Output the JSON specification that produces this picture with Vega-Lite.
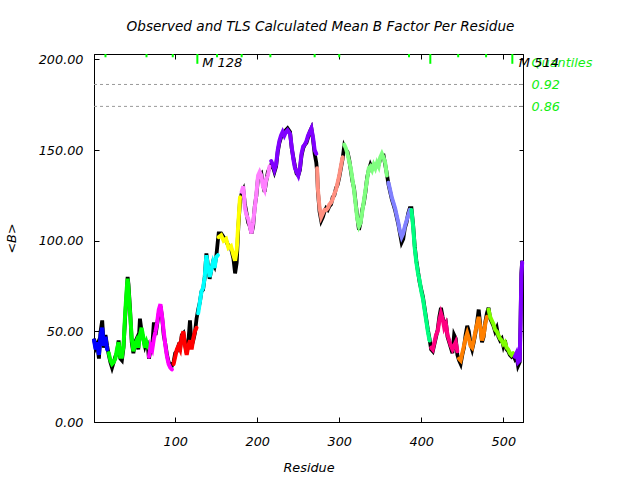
{
 "$schema": "https://vega.github.io/schema/vega-lite/v6.json",
 "width": 429, "height": 368,
 "autosize": "none",
 "padding": {"left": 94, "top": 54, "right": 117, "bottom": 58},
 "background": "white",
 "title": {"text": "Observed and TLS Calculated Mean B Factor Per Residue", "font": "DejaVu Sans", "fontSize": 13.6, "fontStyle": "italic", "fontWeight": "normal", "color": "black", "offset": 19, "dx": 12},
 "config": {
  "view": {"stroke": "black", "strokeWidth": 1},
  "axis": {"grid": false, "domainColor": "black", "tickColor": "black", "labelColor": "black", "labelFont": "DejaVu Sans", "labelFontStyle": "italic", "labelFontSize": 12.8, "titleFont": "DejaVu Sans", "titleFontStyle": "italic", "titleFontWeight": "normal", "titleFontSize": 12.8, "titleColor": "black", "labelOverlap": false}
 },
 "resolve": {"axis": {"x": "independent", "y": "independent"}},
 "datasets": {
  "b": [
   {"r":1,"o":46,"t":45,"g":1},{"r":3,"o":41,"t":40,"g":1},{"r":5,"o":43,"t":44,"g":1},{"r":7,"o":35,"t":37,"g":1},{"r":9,"o":50,"t":48,"g":1},{"r":11,"o":56,"t":52,"g":1},{"r":13,"o":41,"t":42,"g":1},{"r":15,"o":48,"t":47,"g":1},{"r":17,"o":42,"t":40,"g":1},
   {"r":19,"o":37,"t":38,"g":2},{"r":21,"o":33,"t":34,"g":2},{"r":23,"o":30,"t":32,"g":2},{"r":25,"o":33,"t":33,"g":2},{"r":27,"o":36,"t":35,"g":2},{"r":29,"o":38,"t":40,"g":2},{"r":31,"o":45,"t":44,"g":2},{"r":33,"o":35,"t":36,"g":2},{"r":35,"o":34,"t":36,"g":2},{"r":37,"o":41,"t":42,"g":2},{"r":39,"o":58,"t":60,"g":2},{"r":41,"o":72,"t":74,"g":2},{"r":42,"o":80,"t":79,"g":2},{"r":43,"o":76,"t":74,"g":2},{"r":45,"o":62,"t":60,"g":2},{"r":47,"o":44,"t":46,"g":2},{"r":49,"o":38,"t":39,"g":2},{"r":51,"o":44,"t":43,"g":2},{"r":53,"o":46,"t":45,"g":2},{"r":55,"o":40,"t":41,"g":2},{"r":57,"o":57,"t":48,"g":2},{"r":59,"o":50,"t":52,"g":2},{"r":61,"o":46,"t":47,"g":2},{"r":63,"o":42,"t":41,"g":2},{"r":65,"o":45,"t":44,"g":2},{"r":67,"o":40,"t":41,"g":2},
   {"r":68,"o":35,"t":36,"g":3},{"r":70,"o":40,"t":42,"g":3},{"r":72,"o":42,"t":40,"g":3},{"r":74,"o":55,"t":46,"g":3},{"r":76,"o":48,"t":50,"g":3},{"r":78,"o":54,"t":55,"g":3},{"r":80,"o":60,"t":62,"g":3},{"r":82,"o":64,"t":65,"g":3},{"r":84,"o":58,"t":58,"g":3},{"r":86,"o":48,"t":50,"g":3},{"r":88,"o":43,"t":42,"g":3},{"r":90,"o":37,"t":36,"g":3},{"r":92,"o":33,"t":32,"g":3},{"r":94,"o":32,"t":30,"g":3},{"r":96,"o":31,"t":29,"g":3},
   {"r":98,"o":33,"t":32,"g":4},{"r":100,"o":38,"t":36,"g":4},{"r":102,"o":39,"t":40,"g":4},{"r":104,"o":42,"t":42,"g":4},{"r":106,"o":41,"t":40,"g":4},{"r":108,"o":48,"t":47,"g":4},{"r":110,"o":49,"t":50,"g":4},{"r":112,"o":43,"t":42,"g":4},{"r":114,"o":38,"t":37,"g":4},{"r":116,"o":44,"t":42,"g":4},{"r":118,"o":56,"t":45,"g":4},{"r":120,"o":42,"t":40,"g":4},{"r":122,"o":45,"t":46,"g":4},{"r":124,"o":49,"t":50,"g":4},{"r":126,"o":57,"t":52,"g":4},
   {"r":128,"o":62,"t":60,"g":5},{"r":130,"o":66,"t":66,"g":5},{"r":132,"o":72,"t":72,"g":5},{"r":134,"o":73,"t":74,"g":5},{"r":136,"o":80,"t":80,"g":5},{"r":138,"o":93,"t":92,"g":5},{"r":140,"o":86,"t":86,"g":5},{"r":142,"o":79,"t":80,"g":5},{"r":144,"o":84,"t":84,"g":5},{"r":146,"o":88,"t":88,"g":5},{"r":148,"o":86,"t":85,"g":5},{"r":150,"o":91,"t":91,"g":5},{"r":152,"o":100,"t":92,"g":5},
   {"r":153,"o":104,"t":102,"g":6},{"r":156,"o":104,"t":103,"g":6},{"r":159,"o":102,"t":100,"g":6},{"r":162,"o":100,"t":101,"g":6},{"r":165,"o":97,"t":96,"g":6},{"r":168,"o":96,"t":97,"g":6},{"r":171,"o":90,"t":92,"g":6},{"r":173,"o":82,"t":89,"g":6},{"r":175,"o":88,"t":95,"g":6},{"r":177,"o":108,"t":110,"g":6},{"r":179,"o":122,"t":124,"g":6},
   {"r":181,"o":126,"t":127,"g":7},{"r":183,"o":128,"t":130,"g":7},{"r":185,"o":120,"t":118,"g":7},{"r":187,"o":115,"t":114,"g":7},{"r":189,"o":110,"t":112,"g":7},{"r":191,"o":108,"t":108,"g":7},{"r":193,"o":104,"t":104,"g":7},{"r":195,"o":108,"t":110,"g":7},{"r":197,"o":119,"t":118,"g":7},{"r":199,"o":125,"t":126,"g":7},{"r":201,"o":135,"t":136,"g":7},{"r":203,"o":136,"t":138,"g":7},{"r":205,"o":137,"t":136,"g":7},{"r":207,"o":131,"t":130,"g":7},{"r":209,"o":127,"t":128,"g":7},{"r":211,"o":133,"t":134,"g":7},{"r":213,"o":138,"t":136,"g":7},{"r":215,"o":140,"t":141,"g":7},
   {"r":217,"o":142,"t":144,"g":8},{"r":219,"o":141,"t":142,"g":8},{"r":221,"o":138,"t":139,"g":8},{"r":223,"o":141,"t":142,"g":8},{"r":225,"o":149,"t":150,"g":8},{"r":227,"o":154,"t":155,"g":8},{"r":229,"o":157,"t":158,"g":8},{"r":231,"o":159,"t":160,"g":8},{"r":233,"o":160,"t":158,"g":8},{"r":235,"o":161,"t":160,"g":8},{"r":237,"o":162,"t":161,"g":8},{"r":240,"o":160,"t":159,"g":8},{"r":242,"o":151,"t":152,"g":8},{"r":244,"o":146,"t":145,"g":8},{"r":246,"o":141,"t":140,"g":8},{"r":248,"o":137,"t":138,"g":8},{"r":250,"o":136,"t":136,"g":8},{"r":252,"o":139,"t":140,"g":8},{"r":254,"o":147,"t":148,"g":8},{"r":256,"o":151,"t":152,"g":8},{"r":258,"o":153,"t":153,"g":8},{"r":260,"o":154,"t":155,"g":8},{"r":262,"o":157,"t":158,"g":8},{"r":264,"o":160,"t":160,"g":8},{"r":266,"o":162,"t":162,"g":8},{"r":268,"o":156,"t":157,"g":8},{"r":270,"o":148,"t":150,"g":8},{"r":272,"o":143,"t":148,"g":8},
   {"r":273,"o":138,"t":140,"g":9},{"r":274,"o":127,"t":128,"g":9},{"r":276,"o":116,"t":118,"g":9},{"r":278,"o":111,"t":113,"g":9},{"r":280,"o":113,"t":115,"g":9},{"r":282,"o":116,"t":117,"g":9},{"r":284,"o":118,"t":117,"g":9},{"r":286,"o":117,"t":118,"g":9},{"r":288,"o":119,"t":120,"g":9},{"r":290,"o":120,"t":121,"g":9},{"r":292,"o":124,"t":123,"g":9},{"r":294,"o":125,"t":126,"g":9},{"r":296,"o":129,"t":128,"g":9},{"r":298,"o":131,"t":132,"g":9},{"r":300,"o":135,"t":136,"g":9},{"r":302,"o":140,"t":141,"g":9},{"r":304,"o":145,"t":146,"g":9},
   {"r":306,"o":152,"t":153,"g":10},{"r":308,"o":150,"t":151,"g":10},{"r":310,"o":149,"t":148,"g":10},{"r":312,"o":145,"t":144,"g":10},{"r":314,"o":139,"t":140,"g":10},{"r":316,"o":133,"t":134,"g":10},{"r":318,"o":129,"t":128,"g":10},{"r":320,"o":121,"t":120,"g":10},{"r":322,"o":113,"t":112,"g":10},{"r":324,"o":106,"t":108,"g":10},{"r":326,"o":110,"t":110,"g":10},{"r":328,"o":117,"t":116,"g":10},{"r":330,"o":121,"t":122,"g":10},{"r":332,"o":127,"t":128,"g":10},{"r":334,"o":135,"t":134,"g":10},{"r":336,"o":139,"t":140,"g":10},{"r":338,"o":142,"t":141,"g":10},{"r":340,"o":140,"t":139,"g":10},{"r":342,"o":141,"t":142,"g":10},{"r":344,"o":142,"t":140,"g":10},{"r":346,"o":142,"t":143,"g":10},{"r":348,"o":142,"t":141,"g":10},{"r":350,"o":145,"t":146,"g":10},{"r":352,"o":147,"t":148,"g":10},{"r":354,"o":147,"t":146,"g":10},{"r":356,"o":142,"t":143,"g":10},{"r":358,"o":137,"t":136,"g":10},
   {"r":360,"o":131,"t":132,"g":11},{"r":362,"o":127,"t":128,"g":11},{"r":364,"o":123,"t":124,"g":11},{"r":366,"o":120,"t":121,"g":11},{"r":368,"o":117,"t":118,"g":11},{"r":370,"o":113,"t":114,"g":11},{"r":372,"o":109,"t":110,"g":11},{"r":374,"o":104,"t":105,"g":11},{"r":376,"o":99,"t":102,"g":11},{"r":378,"o":101,"t":104,"g":11},{"r":380,"o":107,"t":108,"g":11},{"r":382,"o":110,"t":111,"g":11},{"r":384,"o":115,"t":114,"g":11},{"r":386,"o":118,"t":117,"g":11},
   {"r":388,"o":118,"t":117,"g":12},{"r":390,"o":109,"t":108,"g":12},{"r":392,"o":97,"t":96,"g":12},{"r":394,"o":89,"t":88,"g":12},{"r":396,"o":83,"t":82,"g":12},{"r":398,"o":77,"t":78,"g":12},{"r":400,"o":73,"t":72,"g":12},{"r":402,"o":69,"t":68,"g":12},{"r":404,"o":63,"t":62,"g":12},{"r":406,"o":57,"t":56,"g":12},{"r":408,"o":51,"t":50,"g":12},{"r":410,"o":46,"t":45,"g":12},
   {"r":412,"o":40,"t":41,"g":13},{"r":414,"o":39,"t":40,"g":13},{"r":416,"o":43,"t":44,"g":13},{"r":418,"o":47,"t":48,"g":13},{"r":420,"o":51,"t":50,"g":13},{"r":422,"o":58,"t":56,"g":13},{"r":424,"o":63,"t":60,"g":13},{"r":426,"o":58,"t":57,"g":13},{"r":428,"o":54,"t":52,"g":13},{"r":430,"o":55,"t":54,"g":13},{"r":432,"o":47,"t":48,"g":13},{"r":434,"o":44,"t":45,"g":13},{"r":436,"o":41,"t":42,"g":13},{"r":438,"o":38,"t":40,"g":13},{"r":440,"o":48,"t":42,"g":13},{"r":442,"o":46,"t":44,"g":13},{"r":444,"o":37,"t":39,"g":13},
   {"r":446,"o":34,"t":35,"g":14},{"r":448,"o":32,"t":34,"g":14},{"r":450,"o":37,"t":38,"g":14},{"r":452,"o":41,"t":42,"g":14},{"r":454,"o":48,"t":46,"g":14},{"r":456,"o":53,"t":49,"g":14},{"r":458,"o":50,"t":46,"g":14},{"r":460,"o":43,"t":42,"g":14},{"r":462,"o":40,"t":41,"g":14},{"r":464,"o":44,"t":45,"g":14},{"r":466,"o":49,"t":50,"g":14},{"r":468,"o":55,"t":54,"g":14},{"r":470,"o":62,"t":58,"g":14},{"r":472,"o":53,"t":52,"g":14},{"r":474,"o":44,"t":45,"g":14},{"r":476,"o":47,"t":48,"g":14},{"r":478,"o":55,"t":54,"g":14},{"r":480,"o":60,"t":58,"g":14},
   {"r":482,"o":63,"t":62,"g":15},{"r":484,"o":57,"t":58,"g":15},{"r":486,"o":55,"t":56,"g":15},{"r":488,"o":53,"t":54,"g":15},{"r":490,"o":50,"t":51,"g":15},{"r":492,"o":52,"t":50,"g":15},{"r":494,"o":47,"t":48,"g":15},{"r":496,"o":45,"t":46,"g":15},{"r":498,"o":46,"t":45,"g":15},{"r":500,"o":42,"t":43,"g":15},{"r":502,"o":45,"t":44,"g":15},{"r":504,"o":40,"t":41,"g":15},{"r":506,"o":39,"t":40,"g":15},{"r":508,"o":37,"t":38,"g":15},{"r":510,"o":36,"t":37,"g":15},{"r":512,"o":37,"t":38,"g":15},
   {"r":514,"o":35,"t":36,"g":16},{"r":516,"o":37,"t":38,"g":16},{"r":518,"o":31,"t":33,"g":16},{"r":520,"o":33,"t":34,"g":16},{"r":521,"o":56,"t":55,"g":16},{"r":522,"o":82,"t":80,"g":16},{"r":523,"o":89,"t":88,"g":16}
  ],
  "m": [
   {"r":15,"k":"s"},{"r":65,"k":"s"},{"r":97,"k":"s"},{"r":127,"k":"l"},{"r":151,"k":"s"},{"r":181,"k":"s"},{"r":216,"k":"s"},{"r":270,"k":"s"},{"r":300,"k":"s"},{"r":385,"k":"s"},{"r":411,"k":"l"},{"r":445,"k":"s"},{"r":479,"k":"s"},{"r":511,"k":"l"}
  ],
  "lab": [{"r":128,"label":"M 128"},{"r":514,"label":"M 514"}],
  "q": [{"q":174.1},{"q":186.2}]
 },
 "layer": [
  {
   "data": {"name": "q"},
   "mark": {"type": "rule", "color": "#999999", "strokeDash": [3, 3], "strokeWidth": 1},
   "encoding": {"y": {"field": "q", "type": "quantitative", "scale": {"domain": [0, 203], "nice": false}, "axis": null}}
  },
  {
   "data": {"name": "b"},
   "mark": {"type": "line", "color": "black", "strokeWidth": 3.8, "strokeJoin": "miter"},
   "encoding": {
    "x": {"field": "r", "type": "quantitative", "scale": {"domain": [1, 524], "nice": false, "zero": false},
          "axis": {"orient": "bottom", "values": [100, 200, 300, 400, 500], "format": "d", "tickSize": -5, "labelPadding": 18, "title": "Residue", "titlePadding": 14}},
    "y": {"field": "o", "type": "quantitative", "scale": {"domain": [0, 203], "nice": false},
          "axis": {"orient": "left", "values": [0, 50, 100, 150, 200], "format": ".2f", "tickSize": -5, "labelPadding": 16, "title": "<B>", "titlePadding": 20}}
   }
  },
  {
   "data": {"name": "b"},
   "mark": {"type": "line", "strokeWidth": 4, "strokeCap": "round"},
   "encoding": {
    "x": {"field": "r", "type": "quantitative", "axis": {"orient": "top", "values": [100, 200, 300, 400, 500], "labels": false, "tickSize": -5, "title": null}},
    "y": {"field": "t", "type": "quantitative",
          "axis": {"orient": "right", "values": [0, 50, 100, 150, 200, 174.1, 186.2, 198.3], "tickSize": -4, "labelPadding": 12, "title": null, "labelColor": "#11ee11",
                   "tickColor": {"condition": {"test": "datum.value == 198.3", "value": "transparent"}, "value": "black"},
                   "labelExpr": "datum.value == 186.2 ? '0.92' : datum.value == 174.1 ? '0.86' : datum.value == 198.3 ? 'Quantiles' : ''"}},
    "color": {"field": "g", "type": "nominal", "legend": null,
              "scale": {"domain": [1,2,3,4,5,6,7,8,9,10,11,12,13,14,15,16],
                        "range": ["#0000ff","#00ff00","#ff00ff","#ff0000","#00ffff","#ffff00","#ff80ff","#8000ff","#ff9080","#80ff80","#8080ff","#00ff80","#ff0080","#ff8000","#80ff00","#8000ff"]}}
   }
  },
  {
   "mark": {"type": "rule", "color": "#00ff00", "strokeWidth": 1.5},
   "encoding": {"y": {"datum": 203, "type": "quantitative", "axis": null}}
  },
  {
   "data": {"name": "m"},
   "transform": [{"filter": "datum.k == 's'"}],
   "mark": {"type": "rule", "color": "#00ff00", "strokeWidth": 2},
   "encoding": {"x": {"field": "r", "type": "quantitative", "axis": null}, "y": {"datum": 203, "type": "quantitative", "axis": null}, "y2": {"datum": 201.2}}
  },
  {
   "data": {"name": "m"},
   "transform": [{"filter": "datum.k == 'l'"}],
   "mark": {"type": "rule", "color": "#00ff00", "strokeWidth": 2},
   "encoding": {"x": {"field": "r", "type": "quantitative", "axis": null}, "y": {"datum": 203, "type": "quantitative", "axis": null}, "y2": {"datum": 197.6}}
  },
  {
   "data": {"name": "lab"},
   "mark": {"type": "text", "align": "left", "baseline": "middle", "dx": 4, "font": "DejaVu Sans", "fontStyle": "italic", "fontSize": 13, "color": "black"},
   "encoding": {"x": {"field": "r", "type": "quantitative", "axis": null}, "y": {"datum": 198.3, "type": "quantitative", "axis": null}, "text": {"field": "label"}}
  }
 ]
}
